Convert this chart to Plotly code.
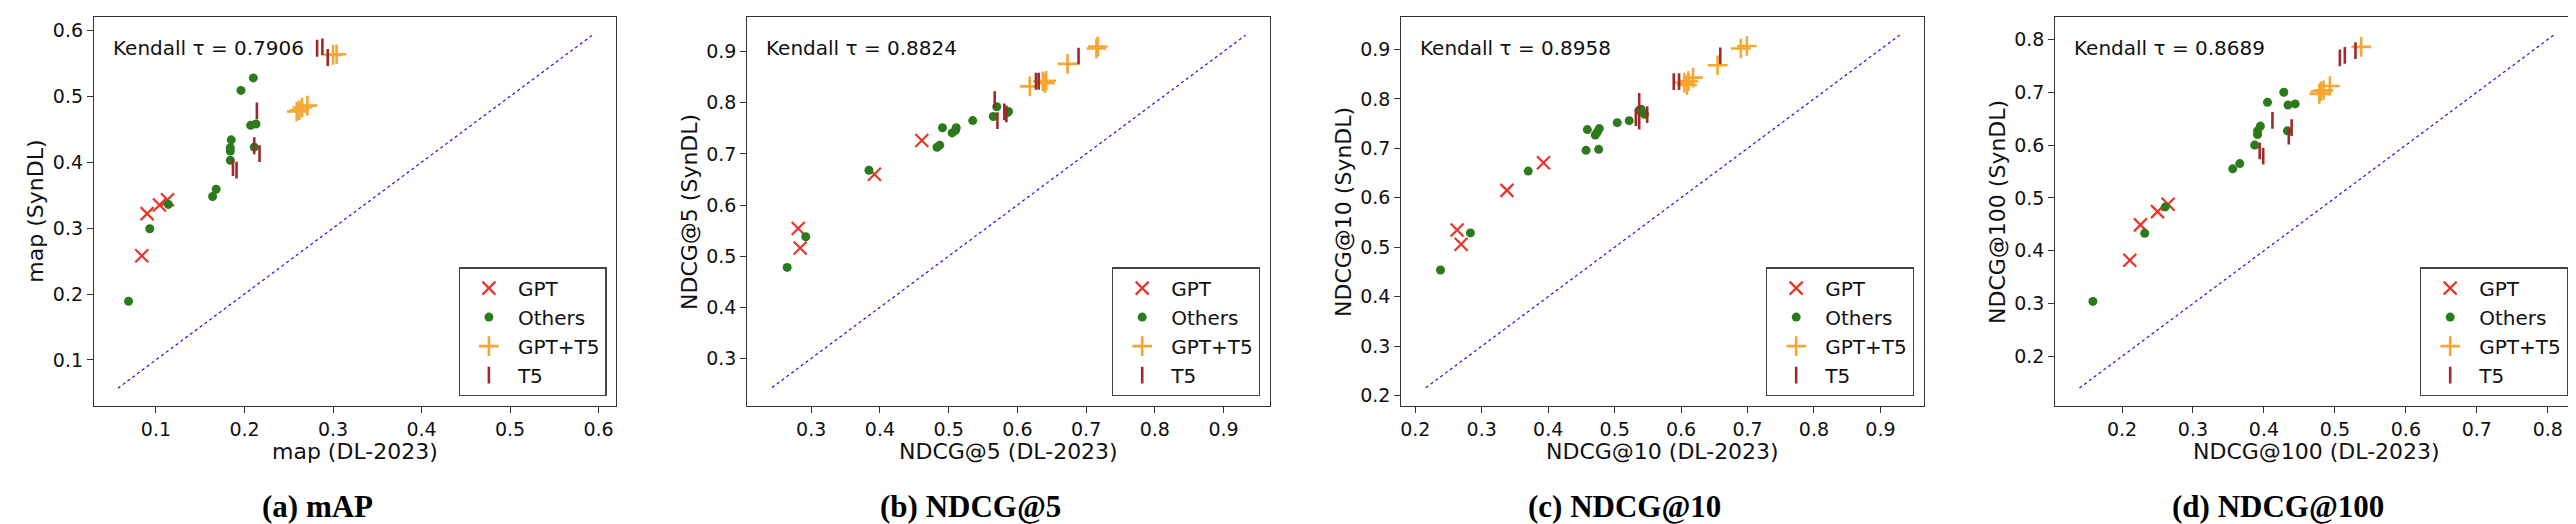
import plotly.graph_objects as go

W, H = 2576, 524

# ---------------- data ----------------
GROUPS = ["GPT", "Others", "GPT+T5", "T5"]
METRICS = ["map", "NDCG@5", "NDCG@10", "NDCG@100"]
CAPTIONS = ["(a) mAP", "(b) NDCG@5", "(c) NDCG@10", "(d) NDCG@100"]
KENDALL = [0.7906, 0.8824, 0.8958, 0.8689]

# (a) map
MAP_GPT_X = [0.084, 0.090, 0.104, 0.113]
MAP_GPT_Y = [0.258, 0.322, 0.335, 0.343]
MAP_OTH_X = [0.069, 0.093, 0.114, 0.164, 0.168, 0.184, 0.184, 0.184, 0.185, 0.196, 0.210, 0.207, 0.213, 0.211]
MAP_OTH_Y = [0.189, 0.299, 0.336, 0.348, 0.359, 0.403, 0.417, 0.422, 0.434, 0.509, 0.528, 0.456, 0.458, 0.423]
MAP_GT5_X = [0.259, 0.262, 0.265, 0.271, 0.300, 0.304]
MAP_GT5_Y = [0.477, 0.479, 0.483, 0.486, 0.563, 0.564]
MAP_T5_X = [0.282, 0.288, 0.294, 0.214, 0.211, 0.217, 0.187, 0.191]
MAP_T5_Y = [0.573, 0.575, 0.559, 0.478, 0.425, 0.413, 0.392, 0.388]
MAP_DIAG = [0.057, 0.593]
MAP_RANGE = [0.030, 0.620]
MAP_TICKS = [0.1, 0.2, 0.3, 0.4, 0.5, 0.6]

# (b) NDCG@5
N5_GPT_X = [0.281, 0.284, 0.392, 0.461]
N5_GPT_Y = [0.554, 0.516, 0.660, 0.726]
N5_OTH_X = [0.265, 0.292, 0.384, 0.483, 0.487, 0.491, 0.505, 0.510, 0.511, 0.535, 0.565, 0.570, 0.587, 0.586]
N5_OTH_Y = [0.478, 0.538, 0.668, 0.713, 0.717, 0.751, 0.741, 0.746, 0.751, 0.765, 0.773, 0.792, 0.783, 0.781]
N5_GT5_X = [0.618, 0.637, 0.642, 0.640, 0.673, 0.715, 0.717]
N5_GT5_Y = [0.832, 0.842, 0.843, 0.838, 0.876, 0.906, 0.910]
N5_T5_X = [0.567, 0.571, 0.581, 0.584, 0.627, 0.631, 0.689]
N5_T5_Y = [0.806, 0.765, 0.782, 0.778, 0.842, 0.842, 0.891]
N5_DIAG = [0.243, 0.932]
N5_RANGE = [0.207, 0.967]
N5_TICKS = [0.3, 0.4, 0.5, 0.6, 0.7, 0.8, 0.9]

# (c) NDCG@10
N10_GPT_X = [0.263, 0.269, 0.338, 0.393]
N10_GPT_Y = [0.535, 0.506, 0.615, 0.671]
N10_OTH_X = [0.238, 0.283, 0.370, 0.457, 0.476, 0.459, 0.471, 0.474, 0.477, 0.504, 0.522, 0.537, 0.540, 0.545]
N10_OTH_Y = [0.454, 0.529, 0.654, 0.696, 0.698, 0.738, 0.727, 0.733, 0.740, 0.752, 0.756, 0.777, 0.779, 0.769]
N10_GT5_X = [0.605, 0.609, 0.611, 0.618, 0.655, 0.690, 0.699]
N10_GT5_Y = [0.833, 0.828, 0.836, 0.843, 0.868, 0.902, 0.907]
N10_T5_X = [0.537, 0.537, 0.532, 0.549, 0.589, 0.597, 0.659]
N10_T5_Y = [0.795, 0.755, 0.762, 0.768, 0.835, 0.835, 0.887]
N10_DIAG = [0.216, 0.929]
N10_RANGE = [0.179, 0.965]
N10_TICKS = [0.2, 0.3, 0.4, 0.5, 0.6, 0.7, 0.8, 0.9]

# (d) NDCG@100
N100_GPT_X = [0.211, 0.226, 0.250, 0.265]
N100_GPT_Y = [0.382, 0.449, 0.474, 0.488]
N100_OTH_X = [0.159, 0.232, 0.261, 0.356, 0.366, 0.387, 0.391, 0.391, 0.395, 0.405, 0.428, 0.434, 0.444, 0.433]
N100_OTH_Y = [0.304, 0.433, 0.483, 0.555, 0.565, 0.600, 0.620, 0.627, 0.636, 0.681, 0.700, 0.676, 0.678, 0.627]
N100_GT5_X = [0.478, 0.480, 0.484, 0.493, 0.537]
N100_GT5_Y = [0.697, 0.702, 0.704, 0.712, 0.786]
N100_T5_X = [0.412, 0.394, 0.399, 0.435, 0.439, 0.507, 0.514, 0.529]
N100_T5_Y = [0.647, 0.589, 0.579, 0.617, 0.633, 0.765, 0.770, 0.779]
N100_DIAG = [0.140, 0.809]
N100_RANGE = [0.106, 0.842]
N100_TICKS = [0.2, 0.3, 0.4, 0.5, 0.6, 0.7, 0.8]

PANEL_DATA = [
    ([MAP_GPT_X, MAP_OTH_X, MAP_GT5_X, MAP_T5_X], [MAP_GPT_Y, MAP_OTH_Y, MAP_GT5_Y, MAP_T5_Y], MAP_DIAG, MAP_RANGE, MAP_TICKS),
    ([N5_GPT_X, N5_OTH_X, N5_GT5_X, N5_T5_X], [N5_GPT_Y, N5_OTH_Y, N5_GT5_Y, N5_T5_Y], N5_DIAG, N5_RANGE, N5_TICKS),
    ([N10_GPT_X, N10_OTH_X, N10_GT5_X, N10_T5_X], [N10_GPT_Y, N10_OTH_Y, N10_GT5_Y, N10_T5_Y], N10_DIAG, N10_RANGE, N10_TICKS),
    ([N100_GPT_X, N100_OTH_X, N100_GT5_X, N100_T5_X], [N100_GPT_Y, N100_OTH_Y, N100_GT5_Y, N100_T5_Y], N100_DIAG, N100_RANGE, N100_TICKS),
]

# ---------------- styling ----------------
FONT = "DejaVu Sans"
CAP_FONT = "Liberation Serif"
AX_LEFT = [86, 739.3, 1393.3, 2047.3]
AX_W = 522.3
AX_TOP, AX_BOT = 9.3, 398.0
AXCOL = "#333333"

STYLES = {
    "GPT": dict(symbol="x-thin", size=13, color="#e8352b", lw=2.2),
    "Others": dict(symbol="circle", size=9, color="#2b7a1c", lw=0),
    "GPT+T5": dict(symbol="cross-thin", size=14, color="#f5a732", lw=2.6),
    "T5": dict(symbol="line-ns", size=12, color="#9e2b2b", lw=2.6),
}

fig = go.Figure()
annotations = []
layout = dict(
    width=W, height=H,
    margin=dict(l=0, r=0, t=0, b=0),
    paper_bgcolor="white", plot_bgcolor="white",
    font=dict(family=FONT, size=19, color="#111"),
)

for i, (xs, ys, diag, rng, ticks) in enumerate(PANEL_DATA):
    n = i + 1
    xa = "x" if n == 1 else f"x{n}"
    ya = "y" if n == 1 else f"y{n}"
    leg = "legend" if n == 1 else f"legend{n}"
    L = AX_LEFT[i]
    R = L + AX_W

    fig.add_trace(go.Scatter(
        x=diag, y=diag, mode="lines", xaxis=xa, yaxis=ya,
        line=dict(color="#1010ff", width=1.2, dash="dot"),
        showlegend=False, hoverinfo="skip"))

    for g, gx, gy in zip(GROUPS, xs, ys):
        st = STYLES[g]
        if st["lw"] > 0:
            marker = dict(symbol=st["symbol"], size=st["size"], color=st["color"],
                          line=dict(color=st["color"], width=st["lw"]))
        else:
            marker = dict(symbol=st["symbol"], size=st["size"], color=st["color"],
                          line=dict(width=0))
        fig.add_trace(go.Scatter(
            x=gx, y=gy, mode="markers", name=g, xaxis=xa, yaxis=ya,
            marker=marker, legend=leg))

    axis_common = dict(
        range=rng, tickvals=ticks, ticktext=[f"{t:.1f}" for t in ticks],
        showgrid=False, zeroline=False,
        showline=True, mirror=True, linecolor=AXCOL, linewidth=1.3,
        ticks="outside", ticklen=6, tickwidth=1.3, tickcolor=AXCOL,
        tickfont=dict(family=FONT, size=19, color="#111"),
    )
    layout["xaxis" if n == 1 else f"xaxis{n}"] = dict(
        axis_common, domain=[L / W, R / W], anchor=ya)
    layout["yaxis" if n == 1 else f"yaxis{n}"] = dict(
        axis_common, domain=[1 - AX_BOT / H, 1 - AX_TOP / H], anchor=xa)

    layout[leg] = dict(
        x=(R - 9.7) / W, y=1 - (AX_BOT - 9.7) / H,
        xanchor="right", yanchor="bottom",
        bgcolor="white", bordercolor="#444", borderwidth=1.3,
        font=dict(family=FONT, size=20, color="#111"),
        itemwidth=48, tracegroupgap=0,
    )

    # Kendall tau text
    annotations.append(dict(
        text=f"Kendall \u03c4 = {KENDALL[i]:.4f}", xref="paper", yref="paper",
        x=(L + 16.7) / W, y=1 - 40 / H, xanchor="left", yanchor="middle",
        showarrow=False, font=dict(family=FONT, size=20, color="#111")))
    # axis titles
    annotations.append(dict(
        text=f"{METRICS[i]} (DL-2023)", xref="paper", yref="paper",
        x=(L + R) / 2 / W, y=1 - 443 / H, xanchor="center", yanchor="middle",
        showarrow=False, font=dict(family=FONT, size=22, color="#111")))
    annotations.append(dict(
        text=f"{METRICS[i]} (SynDL)", xref="paper", yref="paper", textangle=-90,
        x=(L - 58) / W, y=1 - (AX_TOP + AX_BOT) / 2 / H, xanchor="center", yanchor="middle",
        showarrow=False, font=dict(family=FONT, size=22, color="#111")))
    # caption
    annotations.append(dict(
        text=f"<b>{CAPTIONS[i]}</b>", xref="paper", yref="paper",
        x=(L + 223) / W, y=1 - 498 / H, xanchor="center", yanchor="middle",
        showarrow=False, font=dict(family=CAP_FONT, size=31, color="#000")))

layout["annotations"] = annotations
fig.update_layout(**layout)
fig.write_html("out.html")
